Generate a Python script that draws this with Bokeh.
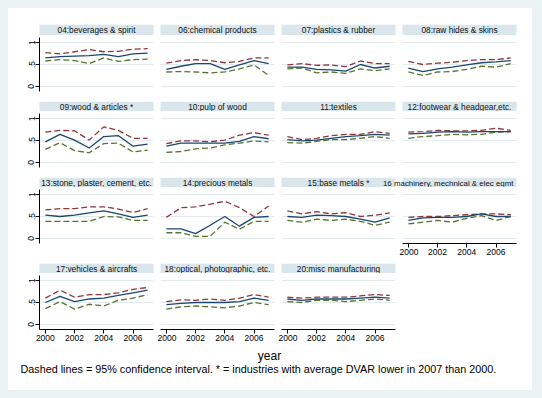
from bokeh.plotting import figure
from bokeh.layouts import column, row
from bokeh.models import Range1d, FixedTicker, Label, BoxAnnotation, Spacer
from bokeh.embed import file_html
from bokeh.resources import INLINE

# ---------------- data ----------------
years = [2000, 2001, 2002, 2003, 2004, 2005, 2006, 2007]

titles = {
    "04": "04:beverages & spirit",
    "06": "06:chemical products",
    "07": "07:plastics & rubber",
    "08": "08:raw hides & skins",
    "09": "09:wood & articles *",
    "10": "10:pulp of wood",
    "11": "11:textiles",
    "12": "12:footwear & headgear,etc.",
    "13": "13:stone, plaster, cement, etc.",
    "14": "14:precious metals",
    "15": "15:base metals *",
    "16": "16 machinery, mechnical & elec eqmt",
    "17": "17:vehicles & aircrafts",
    "18": "18:optical, photographic, etc.",
    "20": "20:misc manufacturing",
}

est_04 = [0.65, 0.68, 0.69, 0.70, 0.73, 0.68, 0.74, 0.76]
hi_04 = [0.77, 0.74, 0.79, 0.84, 0.79, 0.80, 0.85, 0.86]
lo_04 = [0.58, 0.61, 0.59, 0.52, 0.65, 0.57, 0.61, 0.62]

est_06 = [0.39, 0.46, 0.52, 0.52, 0.39, 0.49, 0.59, 0.52]
hi_06 = [0.53, 0.59, 0.61, 0.59, 0.54, 0.57, 0.65, 0.65]
lo_06 = [0.33, 0.34, 0.33, 0.31, 0.33, 0.40, 0.49, 0.25]

est_07 = [0.44, 0.44, 0.39, 0.38, 0.35, 0.50, 0.42, 0.46]
hi_07 = [0.49, 0.52, 0.48, 0.49, 0.45, 0.58, 0.52, 0.52]
lo_07 = [0.40, 0.42, 0.31, 0.33, 0.30, 0.40, 0.36, 0.40]

est_08 = [0.42, 0.34, 0.40, 0.44, 0.49, 0.54, 0.56, 0.59]
hi_08 = [0.57, 0.50, 0.53, 0.55, 0.59, 0.61, 0.61, 0.65]
lo_08 = [0.33, 0.25, 0.33, 0.34, 0.39, 0.46, 0.44, 0.52]

est_09 = [0.47, 0.64, 0.51, 0.33, 0.59, 0.61, 0.37, 0.42]
hi_09 = [0.69, 0.73, 0.72, 0.51, 0.81, 0.73, 0.55, 0.55]
lo_09 = [0.30, 0.45, 0.27, 0.22, 0.43, 0.44, 0.24, 0.28]

est_10 = [0.37, 0.44, 0.44, 0.44, 0.44, 0.48, 0.59, 0.54]
hi_10 = [0.43, 0.49, 0.49, 0.47, 0.51, 0.62, 0.68, 0.62]
lo_10 = [0.23, 0.25, 0.31, 0.33, 0.40, 0.44, 0.49, 0.47]

est_11 = [0.52, 0.49, 0.51, 0.55, 0.59, 0.61, 0.64, 0.62]
hi_11 = [0.59, 0.52, 0.55, 0.61, 0.64, 0.64, 0.70, 0.66]
lo_11 = [0.45, 0.44, 0.48, 0.52, 0.52, 0.55, 0.59, 0.55]

est_12 = [0.65, 0.66, 0.69, 0.70, 0.69, 0.70, 0.70, 0.70]
hi_12 = [0.69, 0.70, 0.73, 0.72, 0.72, 0.73, 0.78, 0.73]
lo_12 = [0.55, 0.59, 0.61, 0.64, 0.63, 0.64, 0.69, 0.70]

est_13 = [0.53, 0.50, 0.53, 0.58, 0.63, 0.56, 0.48, 0.53]
hi_13 = [0.65, 0.68, 0.68, 0.72, 0.72, 0.67, 0.59, 0.68]
lo_13 = [0.39, 0.39, 0.39, 0.39, 0.50, 0.49, 0.41, 0.41]

est_14 = [0.22, 0.22, 0.11, 0.30, 0.50, 0.28, 0.48, 0.50]
hi_14 = [0.48, 0.70, 0.72, 0.78, 0.85, 0.70, 0.50, 0.74]
lo_14 = [0.13, 0.13, 0.05, 0.05, 0.37, 0.21, 0.39, 0.39]

est_15 = [0.50, 0.48, 0.53, 0.52, 0.50, 0.44, 0.37, 0.47]
hi_15 = [0.63, 0.56, 0.61, 0.56, 0.59, 0.50, 0.53, 0.58]
lo_15 = [0.41, 0.37, 0.44, 0.41, 0.44, 0.39, 0.30, 0.37]

est_16 = [0.41, 0.47, 0.48, 0.48, 0.50, 0.56, 0.50, 0.50]
hi_16 = [0.48, 0.50, 0.50, 0.52, 0.54, 0.56, 0.56, 0.54]
lo_16 = [0.33, 0.37, 0.41, 0.37, 0.46, 0.52, 0.41, 0.50]

est_17 = [0.50, 0.64, 0.52, 0.58, 0.60, 0.66, 0.72, 0.78]
hi_17 = [0.60, 0.78, 0.62, 0.68, 0.68, 0.72, 0.80, 0.84]
lo_17 = [0.36, 0.52, 0.35, 0.46, 0.42, 0.55, 0.60, 0.68]

est_18 = [0.45, 0.48, 0.50, 0.50, 0.50, 0.52, 0.60, 0.55]
hi_18 = [0.52, 0.56, 0.55, 0.58, 0.55, 0.60, 0.68, 0.62]
lo_18 = [0.35, 0.40, 0.42, 0.40, 0.38, 0.42, 0.50, 0.45]

est_20 = [0.58, 0.55, 0.58, 0.58, 0.58, 0.60, 0.62, 0.60]
hi_20 = [0.62, 0.60, 0.62, 0.62, 0.62, 0.65, 0.68, 0.66]
lo_20 = [0.52, 0.50, 0.55, 0.55, 0.52, 0.55, 0.58, 0.55]

series = {
    "04": (est_04, hi_04, lo_04), "06": (est_06, hi_06, lo_06),
    "07": (est_07, hi_07, lo_07), "08": (est_08, hi_08, lo_08),
    "09": (est_09, hi_09, lo_09), "10": (est_10, hi_10, lo_10),
    "11": (est_11, hi_11, lo_11), "12": (est_12, hi_12, lo_12),
    "13": (est_13, hi_13, lo_13), "14": (est_14, hi_14, lo_14),
    "15": (est_15, hi_15, lo_15), "16": (est_16, hi_16, lo_16),
    "17": (est_17, hi_17, lo_17), "18": (est_18, hi_18, lo_18),
    "20": (est_20, hi_20, lo_20),
}

grid = [["04", "06", "07", "08"],
        ["09", "10", "11", "12"],
        ["13", "14", "15", "16"],
        ["17", "18", "20", None]]

y_ticks = [0, 0.5, 1]
y_labels = {0: "0", 0.5: ".5", 1: "1"}
x_ticks = [2000, 2002, 2004, 2006]
x_labels = {2000: "2000", 2002: "2002", 2004: "2004", 2006: "2006"}

footnote = ("Dashed lines = 95% confidence interval. * = industries with average "
            "DVAR lower in 2007 than 2000.")

# ---------------- style / layout ----------------
FONT = "Liberation Sans"
BLUE, RED, GREEN = "#1a476f", "#90353b", "#55752f"
STRIP = "#d9e6eb"
GRIDC = "#e3eaed"
OUTER = "#eaf2f3"
CELL_W = [149, 121, 121, 121]
LEFT = [31, 3, 3, 3]
RIGHT = 4
FRAME_W = 114
FRAME_H = 54
STRIP_H = 11
ROW_BOTTOM = [9, 9, 19, 18]
ROW_TOP_PAD = [16, 0, 0, 0]
INNER_W = 524
INNER_H = 382


def make_panel(key, col, bottom, show_x):
    p = figure(width=CELL_W[col], height=2 + FRAME_H + bottom,
               min_border_left=LEFT[col], min_border_right=RIGHT,
               min_border_top=2, min_border_bottom=bottom,
               x_range=Range1d(1999.6, 2007.4), y_range=Range1d(-0.114, 1.114),
               x_axis_location="below" if show_x else None,
               y_axis_location="left" if col == 0 else None,
               toolbar_location=None, output_backend="svg",
               outline_line_color=None, background_fill_color="white",
               border_fill_color="white")
    p.xgrid.visible = False
    p.ygrid.ticker = FixedTicker(ticks=y_ticks)
    p.ygrid.grid_line_color = GRIDC
    p.ygrid.grid_line_width = 1
    axes = list(p.xaxis) + list(p.yaxis)
    for ax in axes:
        ax.axis_line_color = "black"
        ax.major_tick_line_color = "black"
        ax.major_tick_out = 4
        ax.major_tick_in = 0
        ax.minor_tick_line_color = None
        ax.major_label_text_font = FONT
        ax.major_label_text_font_size = "8.5px"
        ax.major_label_text_color = "black"
        ax.major_label_standoff = 1
    for ax in p.xaxis:
        ax.ticker = FixedTicker(ticks=x_ticks)
        ax.major_label_overrides = x_labels
    for ax in p.yaxis:
        ax.ticker = FixedTicker(ticks=y_ticks)
        ax.major_label_overrides = y_labels
        ax.major_label_orientation = "vertical"
    est, hi, lo = series[key]
    p.line(years, hi, line_color=RED, line_width=1.3, line_dash="6 3")
    p.line(years, lo, line_color=GREEN, line_width=1.3, line_dash="6 3")
    p.line(years, est, line_color=BLUE, line_width=1.3)
    return p


def make_strip_row(keys, top):
    s = figure(width=INNER_W, height=STRIP_H + top,
               min_border_left=0, min_border_right=0,
               min_border_top=top, min_border_bottom=0,
               x_range=Range1d(0, INNER_W), y_range=Range1d(0, 1),
               x_axis_location=None, y_axis_location=None,
               toolbar_location=None, output_backend="svg",
               outline_line_color=None, background_fill_color="white",
               border_fill_color="white")
    s.xgrid.visible = False
    s.ygrid.visible = False
    x0 = 0
    boxes, labels = [], []
    for c, key in enumerate(keys):
        left = x0 + LEFT[c]
        right = left + FRAME_W
        if key is not None:
            boxes.append(BoxAnnotation(left=left, right=right, fill_color=STRIP,
                                       fill_alpha=1.0, line_color=None))
            long_title = len(titles[key]) > 32
            labels.append(Label(x=(right - 3) if long_title else (left + right) / 2,
                                y=0.5, text=titles[key],
                                text_align="right" if long_title else "center",
                                text_baseline="middle",
                                text_font=FONT,
                                text_font_size="7.9px" if long_title else "8.3px",
                                text_color="#111111"))
        x0 += CELL_W[c]
    for b in boxes:
        s.add_layout(b)
    for l in labels:
        s.add_layout(l)
    return s


items = []
for r, keys in enumerate(grid):
    items.append(make_strip_row(keys, ROW_TOP_PAD[r]))
    cells = []
    for c, key in enumerate(keys):
        h = 2 + FRAME_H + ROW_BOTTOM[r]
        if key is None:
            cells.append(Spacer(width=CELL_W[c], height=h))
        else:
            show_x = (r == 3) or key == "16"
            cells.append(make_panel(key, c, ROW_BOTTOM[r], show_x))
    items.append(row(*cells))

FOOT_H = 43
foot = figure(width=INNER_W, height=FOOT_H, min_border=0,
              x_range=Range1d(0, INNER_W), y_range=Range1d(0, FOOT_H),
              x_axis_location=None, y_axis_location=None,
              toolbar_location=None, output_backend="svg",
              outline_line_color=None, background_fill_color="white",
              border_fill_color="white")
foot.xgrid.visible = False
foot.ygrid.visible = False
foot.add_layout(Label(x=261, y=FOOT_H - 8, text="year", text_align="center",
                      text_baseline="middle", text_font=FONT,
                      text_font_size="12px", text_color="black"))
foot.add_layout(Label(x=12, y=FOOT_H - 21, text=footnote, text_align="left",
                      text_baseline="middle", text_font=FONT,
                      text_font_size="10.8px", text_color="black"))
items.append(foot)

inner = column(*items)

band = {"background-color": OUTER}
layout = column(
    Spacer(width=542, height=8, styles=band),
    row(Spacer(width=8, height=INNER_H, styles=band),
        inner,
        Spacer(width=542 - 8 - INNER_W, height=INNER_H, styles=band)),
    Spacer(width=542, height=8, styles=band),
)

open("out.html", "w").write(file_html(layout, INLINE))
